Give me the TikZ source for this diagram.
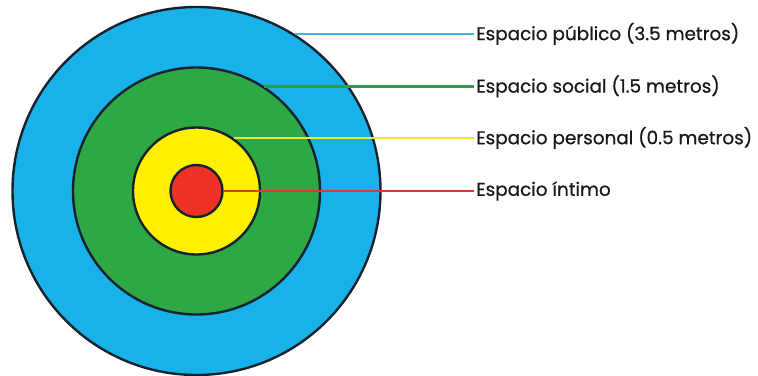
\documentclass[tikz,border=0pt]{standalone}
\usepackage{fontspec}
\setmainfont{Poppins}[FakeBold=0.7]
\usetikzlibrary{calc}
\definecolor{RingBlue}{HTML}{18B2E8}
\definecolor{RingGreen}{HTML}{2DA844}
\definecolor{RingYellow}{HTML}{FFF000}
\definecolor{RingRed}{HTML}{EE3325}
\definecolor{RingEdge}{HTML}{16222D}
\definecolor{LeadBlue}{HTML}{3FB6DD}
\definecolor{LeadGreen}{HTML}{2F9B47}
\definecolor{LeadYellow}{HTML}{EFE532}
\definecolor{LeadRed}{HTML}{D63B2E}
\tikzset{ring/.style={circle,draw=RingEdge,line width=2.4pt,inner sep=0pt},
 lead/.style={line width=2.2pt},
 tag/.style={anchor=west,inner sep=2pt,text=black!90,font=\fontsize{18.4}{22}\selectfont}}

\begin{document}
\begin{tikzpicture}[x=1pt,y=-1pt]
\useasboundingbox (0,0) rectangle (758,375);
\coordinate (c) at (196.5,191);
\coordinate (xend) at (474,0);
% Rings from the outside in, each one covers the one before.
\foreach \nm/\fc/\d in {publico/RingBlue/368,social/RingGreen/247,
 personal/RingYellow/127,intimo/RingRed/52}
 {\node[ring,fill=\fc,minimum size=\d pt] (\nm) at (c) {};}
% Leaders leave each ring at the height of its label.
\foreach \nm/\lc/\a/\txt in {publico/LeadBlue/58/Espacio público (3.5 metros),
 social/LeadGreen/57/Espacio social (1.5 metros),
 personal/LeadYellow/55/Espacio personal (0.5 metros),
 intimo/LeadRed/0/Espacio íntimo}
 {\node[tag] (t\nm) at (xend |- \nm.\a) {\txt};
 \draw[lead,draw=\lc] (\nm.\a) -- (t\nm.west);}
\end{tikzpicture}
\end{document}
